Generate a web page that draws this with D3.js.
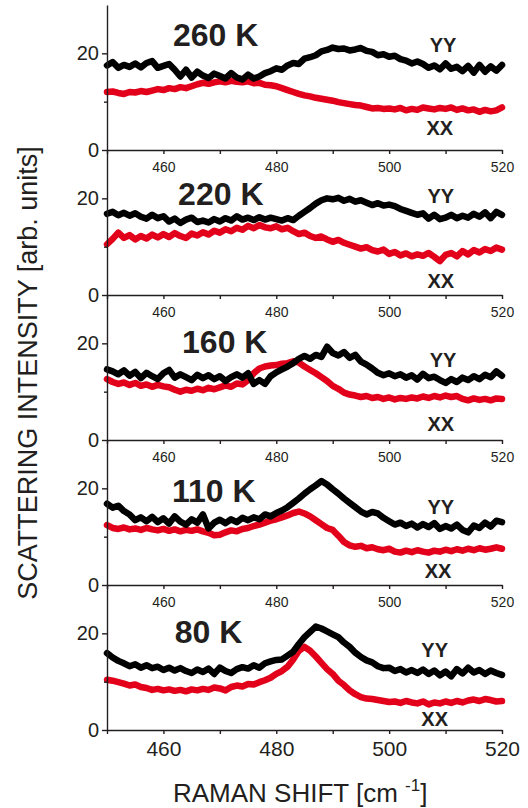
<!DOCTYPE html>
<html lang="en">
  <head>
    <meta charset="UTF-8" />
    <title>Raman spectra XX / YY</title>
    <script src="https://d3js.org/d3.v7.min.js"></script>
    <style>
      body {
        margin: 0;
        background: #fff;
      }
      svg text {
        font-family: "Liberation Sans", Arial, Helvetica, sans-serif;
        fill: #231f20;
      }
      .axis path,
      .axis line {
        stroke: #231f20;
        stroke-width: 1.4;
      }
      .spec {
        fill: none;
        stroke-width: 6.5;
        stroke-linejoin: round;
        stroke-linecap: round;
      }
    </style>
  </head>
  <body>
    <div id="chart"></div>

    <script>
      // Raman shift grid (cm^-1), one point per wavenumber
      const shift = d3.range(450, 521);

      const temps = ["260 K", "220 K", "160 K", "110 K", "80 K"];
      const xMajor = [460, 480, 500, 520];
      const xTicks = [450, 460, 470, 480, 490, 500, 510, 520];
      const yMajor = [0, 20];
      const yMinor = [10];

      // YY polarisation (black)
      const yy260 = [17.5, 18.2, 17.0, 17.6, 17.2, 17.9, 17.1, 18.0, 18.4, 17.0,
        17.4, 17.8, 16.6, 15.2, 16.6, 15.0, 16.2, 15.4, 14.9, 15.8,
        15.3, 14.8, 15.9, 15.0, 14.6, 15.6, 14.8, 15.2, 15.9, 16.3,
        16.9, 16.6, 17.5, 18.0, 17.8, 18.9, 19.2, 19.6, 20.4, 20.7,
        21.2, 20.9, 21.0, 20.6, 20.8, 21.1, 20.5, 20.3, 19.6, 19.8,
        19.3, 19.5, 18.8, 18.5, 17.9, 18.3, 17.8, 17.0, 17.5, 16.7,
        17.9, 16.8, 17.2, 16.3, 17.4, 16.0, 17.6, 16.2, 17.3, 16.4, 17.6];
      const yy220 = [16.8, 17.2, 16.5, 17.0, 16.4, 16.9, 16.2, 15.8, 16.6, 15.9,
        16.3, 15.2, 15.8, 14.9, 15.6, 16.0, 15.1, 15.4, 15.0, 15.7,
        15.2, 15.9, 15.4, 16.3, 15.6, 16.0, 15.5, 16.1, 15.6, 16.0,
        15.7, 15.4, 15.9, 15.5, 16.4, 17.2, 18.0, 18.9, 19.6, 20.0,
        19.8, 20.1, 19.5, 19.9, 19.3, 19.6, 19.1, 18.6, 19.0, 18.5,
        18.7, 18.4, 17.8, 17.4, 17.0, 16.6, 16.9, 15.8, 16.6, 15.7,
        16.0, 16.6, 15.9, 16.4, 16.0, 16.8, 16.2, 17.1, 15.9, 17.2, 16.6];
      const yy160 = [14.6, 14.2, 13.6, 14.4, 13.3, 14.1, 12.8, 13.9, 13.2, 12.6,
        13.8, 14.5, 12.9, 13.6, 13.0, 12.4, 13.5, 12.8, 13.4, 12.6,
        13.2, 12.2, 13.0, 13.6, 12.9, 13.8, 11.6, 12.4, 11.6, 13.2,
        14.0, 14.6, 15.2, 15.9, 16.8, 17.4, 16.8, 17.6, 17.2, 19.3,
        18.0, 17.5, 18.2, 17.0, 17.6, 16.2, 15.6, 14.8, 13.9, 13.4,
        13.8, 13.2, 13.6, 12.9, 13.4, 12.5, 13.7, 12.8, 13.1, 12.4,
        11.8, 12.6, 12.0, 12.9, 12.4, 13.2, 12.6, 13.5, 13.0, 14.2, 13.3];
      const yy110 = [16.8, 16.0, 16.4, 15.3, 14.6, 13.4, 14.0, 13.2, 14.1, 13.0,
        13.8, 12.7, 14.2, 13.1, 12.5, 13.6, 12.9, 14.6, 11.7, 12.9,
        13.5, 12.8, 13.6, 13.0, 13.9, 13.4, 14.0, 13.6, 14.6, 14.2,
        14.9, 15.4, 16.1, 17.0, 17.9, 18.9, 19.8, 20.6, 21.5, 20.8,
        19.8, 18.9, 17.9, 17.0, 16.1, 15.2, 14.6, 15.1, 14.8, 13.9,
        13.2, 12.5, 12.9, 12.2, 12.7, 11.9, 12.6, 12.0, 12.8, 11.6,
        12.2, 11.7, 12.5, 11.4, 10.9, 12.3, 11.8, 12.9, 12.1, 13.3, 13.0];
      const yy80 = [15.9, 15.0, 14.3, 13.8, 13.2, 13.6, 12.9, 13.4, 12.8, 13.1,
        12.4, 12.9, 12.3, 12.8, 12.2, 11.8, 12.5, 12.0, 12.7, 11.6,
        12.9, 12.2, 11.8, 12.6, 13.0, 12.7, 13.4, 12.9, 13.8, 14.2,
        14.5, 14.6, 15.4, 16.2, 17.8, 19.2, 20.3, 21.4, 21.0, 20.4,
        19.8, 19.2, 18.1, 17.2, 16.0, 15.1, 14.4, 14.0, 13.2, 12.8,
        12.9, 12.2, 12.6, 11.9, 12.4, 11.8, 12.5, 11.6, 12.3, 11.3,
        12.1, 11.1, 12.6, 11.7, 12.9, 11.9, 12.4, 11.6, 12.3, 11.8, 11.4];

      // XX polarisation (red)
      const xx260 = [12.0, 12.1, 11.8, 11.6, 12.0, 11.9, 12.2, 12.0, 12.3, 12.6,
        12.4, 12.8, 12.6, 13.0, 12.8, 13.2, 13.6, 13.9, 13.7, 14.0,
        14.2, 14.0, 14.3, 14.1, 14.0, 14.2, 13.8, 13.9, 13.5, 13.4,
        13.2, 12.8, 12.4, 12.0, 11.6, 11.3, 11.1, 10.8, 10.6, 10.4,
        10.2, 9.9, 9.7, 9.5, 9.3, 9.2, 8.9, 8.6, 8.7, 8.5,
        8.6, 8.4, 8.7, 8.2, 8.5, 8.3, 8.8, 8.6, 8.4, 8.7,
        8.5, 8.8, 8.3, 8.6, 8.2, 8.4, 7.9, 8.3, 8.0, 8.2, 8.8];
      const xx220 = [10.5, 11.6, 12.9, 11.8, 12.4, 11.5, 12.2, 11.7, 12.5, 11.9,
        12.6, 12.0, 12.8, 12.2, 11.8, 12.7, 12.3, 13.0, 12.5, 13.3,
        12.9, 13.6, 13.2, 13.9, 13.5, 14.3, 13.8, 14.5, 14.0, 13.8,
        14.2, 13.6, 13.9, 13.2, 12.6, 12.9, 12.2, 11.8, 12.1, 11.5,
        11.0, 11.4, 10.8, 10.4, 10.0, 9.6, 9.9, 9.3, 9.0, 9.4,
        8.5, 8.9, 8.2, 8.6, 8.0, 8.4, 8.1, 8.7, 7.9, 7.0,
        8.3, 8.7, 8.0, 9.1, 8.4, 9.3, 8.8, 9.5, 9.1, 9.8, 9.4];
      const xx160 = [12.6, 12.0, 11.6, 11.9, 11.4, 11.8, 11.2, 11.5, 11.0, 11.4,
        11.1, 10.9, 10.4, 10.0, 10.4, 10.2, 10.6, 10.3, 10.8, 10.5,
        10.9, 11.3, 11.0, 11.7, 11.5, 12.4, 13.8, 14.8, 15.2, 15.4,
        15.5, 15.8, 15.9, 16.3, 16.0, 15.2, 14.5, 13.8, 13.0, 12.2,
        11.2, 10.6, 9.8, 9.4, 9.2, 8.9, 9.1, 8.7, 8.9, 8.5,
        8.8, 8.4, 8.7, 8.5, 8.8, 8.6, 9.0, 8.7, 9.1, 8.8,
        9.2, 8.9, 9.1, 8.5, 8.2, 8.6, 8.3, 8.5, 8.2, 8.6, 8.5];
      const xx110 = [12.4, 11.8, 11.6, 11.9, 11.5, 11.7, 11.4, 11.8, 11.5, 11.3,
        11.6, 11.2, 11.5, 11.1, 11.4, 11.2, 11.5, 11.1, 10.8, 10.3,
        10.4, 10.9, 11.3, 11.1, 11.6, 11.8, 12.2, 12.5, 12.9, 13.3,
        13.6, 14.0, 14.4, 14.9, 15.2, 14.8, 14.2, 13.4, 12.6, 11.8,
        11.4, 10.2, 8.9, 8.2, 7.9, 8.1, 7.6, 7.8, 7.4, 7.2,
        7.5, 6.9, 6.7, 7.1, 6.8, 7.2, 6.9, 6.7, 7.1, 6.9,
        7.3, 7.0, 7.4, 7.1, 7.5, 7.2, 7.6, 7.3, 7.5, 7.8, 7.5];
      const xx80 = [10.4, 10.2, 9.9, 9.6, 9.2, 9.4, 8.9, 8.7, 8.3, 8.5,
        8.2, 8.4, 8.1, 8.3, 8.0, 8.4, 8.2, 8.5, 8.3, 8.8,
        8.6, 8.2, 8.9, 9.2, 9.0, 9.5, 9.4, 9.9, 10.3, 10.8,
        11.6, 12.2, 13.1, 14.6, 16.4, 17.2, 16.4, 15.2, 13.9, 12.6,
        11.6, 10.2, 9.3, 8.2, 7.4, 6.8, 6.5, 6.4, 6.2, 6.0,
        5.8, 5.9, 5.6, 6.0, 5.7, 5.5, 5.9, 5.3, 5.7, 5.5,
        5.9, 5.6, 6.0, 5.7, 6.1, 6.3, 6.0, 6.4, 6.2, 5.9, 6.0];

      const yySeries = [yy260, yy220, yy160, yy110, yy80];
      const xxSeries = [xx260, xx220, xx160, xx110, xx80];

      // label anchors in data units [shift, intensity]
      const titlePos = [[461.7, 21.6], [462.6, 18.6], [463.3, 17.9], [461.5, 17.2], [462.0, 18.0]];
      const yyPos = [[507.2, 20.2], [506.8, 19.0], [507.2, 15.1], [506.8, 14.6], [505.7, 15.2]];
      const xxPos = [[506.6, 3.1], [506.8, 1.4], [506.8, 1.9], [506.3, 1.4], [505.7, 0.8]];

      const W = 528, H = 808;
      const left = 107, right = 502, top0 = 5, panelH = 145;

      const svg = d3
        .select("#chart")
        .append("svg")
        .attr("width", W)
        .attr("height", H);

      const x = d3.scaleLinear().domain([450, 520]).range([left, right]);

      temps.forEach((t, i) => {
        const top = top0 + panelH * i;
        const y = d3.scaleLinear().domain([0, 30]).range([top + panelH, top]);
        const last = i === temps.length - 1;
        const g = svg.append("g");

        // spectra: red XX first, black YY on top
        const line = d3
          .line()
          .x((d, k) => x(shift[k]))
          .y((d) => y(d));

        g.append("path")
          .datum(xxSeries[i])
          .attr("class", "spec")
          .attr("stroke", "#e2001a")
          .attr("d", line);

        g.append("path")
          .datum(yySeries[i])
          .attr("class", "spec")
          .attr("stroke", "#000")
          .attr("d", line);

        // y axis
        const ya = g
          .append("g")
          .attr("class", "axis")
          .attr("transform", `translate(${left},0)`)
          .call(d3.axisLeft(y).tickValues(yMajor).tickSize(5).tickSizeOuter(0).tickPadding(3));
        ya.selectAll("text").style("font-size", "20px");

        g.append("g")
          .attr("class", "axis")
          .attr("transform", `translate(${left},0)`)
          .call(d3.axisLeft(y).tickValues(yMinor).tickSize(3).tickSizeOuter(0).tickFormat(""))
          .select(".domain")
          .remove();

        // x axis
        const xa = g
          .append("g")
          .attr("class", "axis")
          .attr("transform", `translate(0,${y(0)})`)
          .call(
            d3
              .axisBottom(x)
              .tickValues(xTicks)
              .tickSize(4)
              .tickSizeOuter(0)
              .tickPadding(last ? 7 : 8)
              .tickFormat((d) => (xMajor.includes(d) ? d : ""))
          );
        xa.selectAll("text").style("font-size", last ? "21px" : "14px");

        // labels
        g.append("text")
          .attr("x", x(titlePos[i][0]))
          .attr("y", y(titlePos[i][1]))
          .style("font-size", "32px")
          .style("font-weight", "bold")
          .text(t);

        g.append("text")
          .attr("x", x(yyPos[i][0]))
          .attr("y", y(yyPos[i][1]))
          .style("font-size", "20px")
          .style("font-weight", "bold")
          .text("YY");

        g.append("text")
          .attr("x", x(xxPos[i][0]))
          .attr("y", y(xxPos[i][1]))
          .style("font-size", "20px")
          .style("font-weight", "bold")
          .text("XX");
      });

      // axis titles
      svg
        .append("text")
        .attr("transform", "translate(37,373) rotate(-90)")
        .attr("text-anchor", "middle")
        .style("font-size", "27px")
        .text("SCATTERING INTENSITY [arb. units]");

      const xt = svg
        .append("text")
        .attr("x", 173)
        .attr("y", 802)
        .style("font-size", "26px");
      xt.append("tspan").text("RAMAN SHIFT [cm ");
      xt.append("tspan").attr("dy", -11).style("font-size", "17px").text("-1");
      xt.append("tspan").attr("dy", 11).text("]");
    </script>
  </body>
</html>
